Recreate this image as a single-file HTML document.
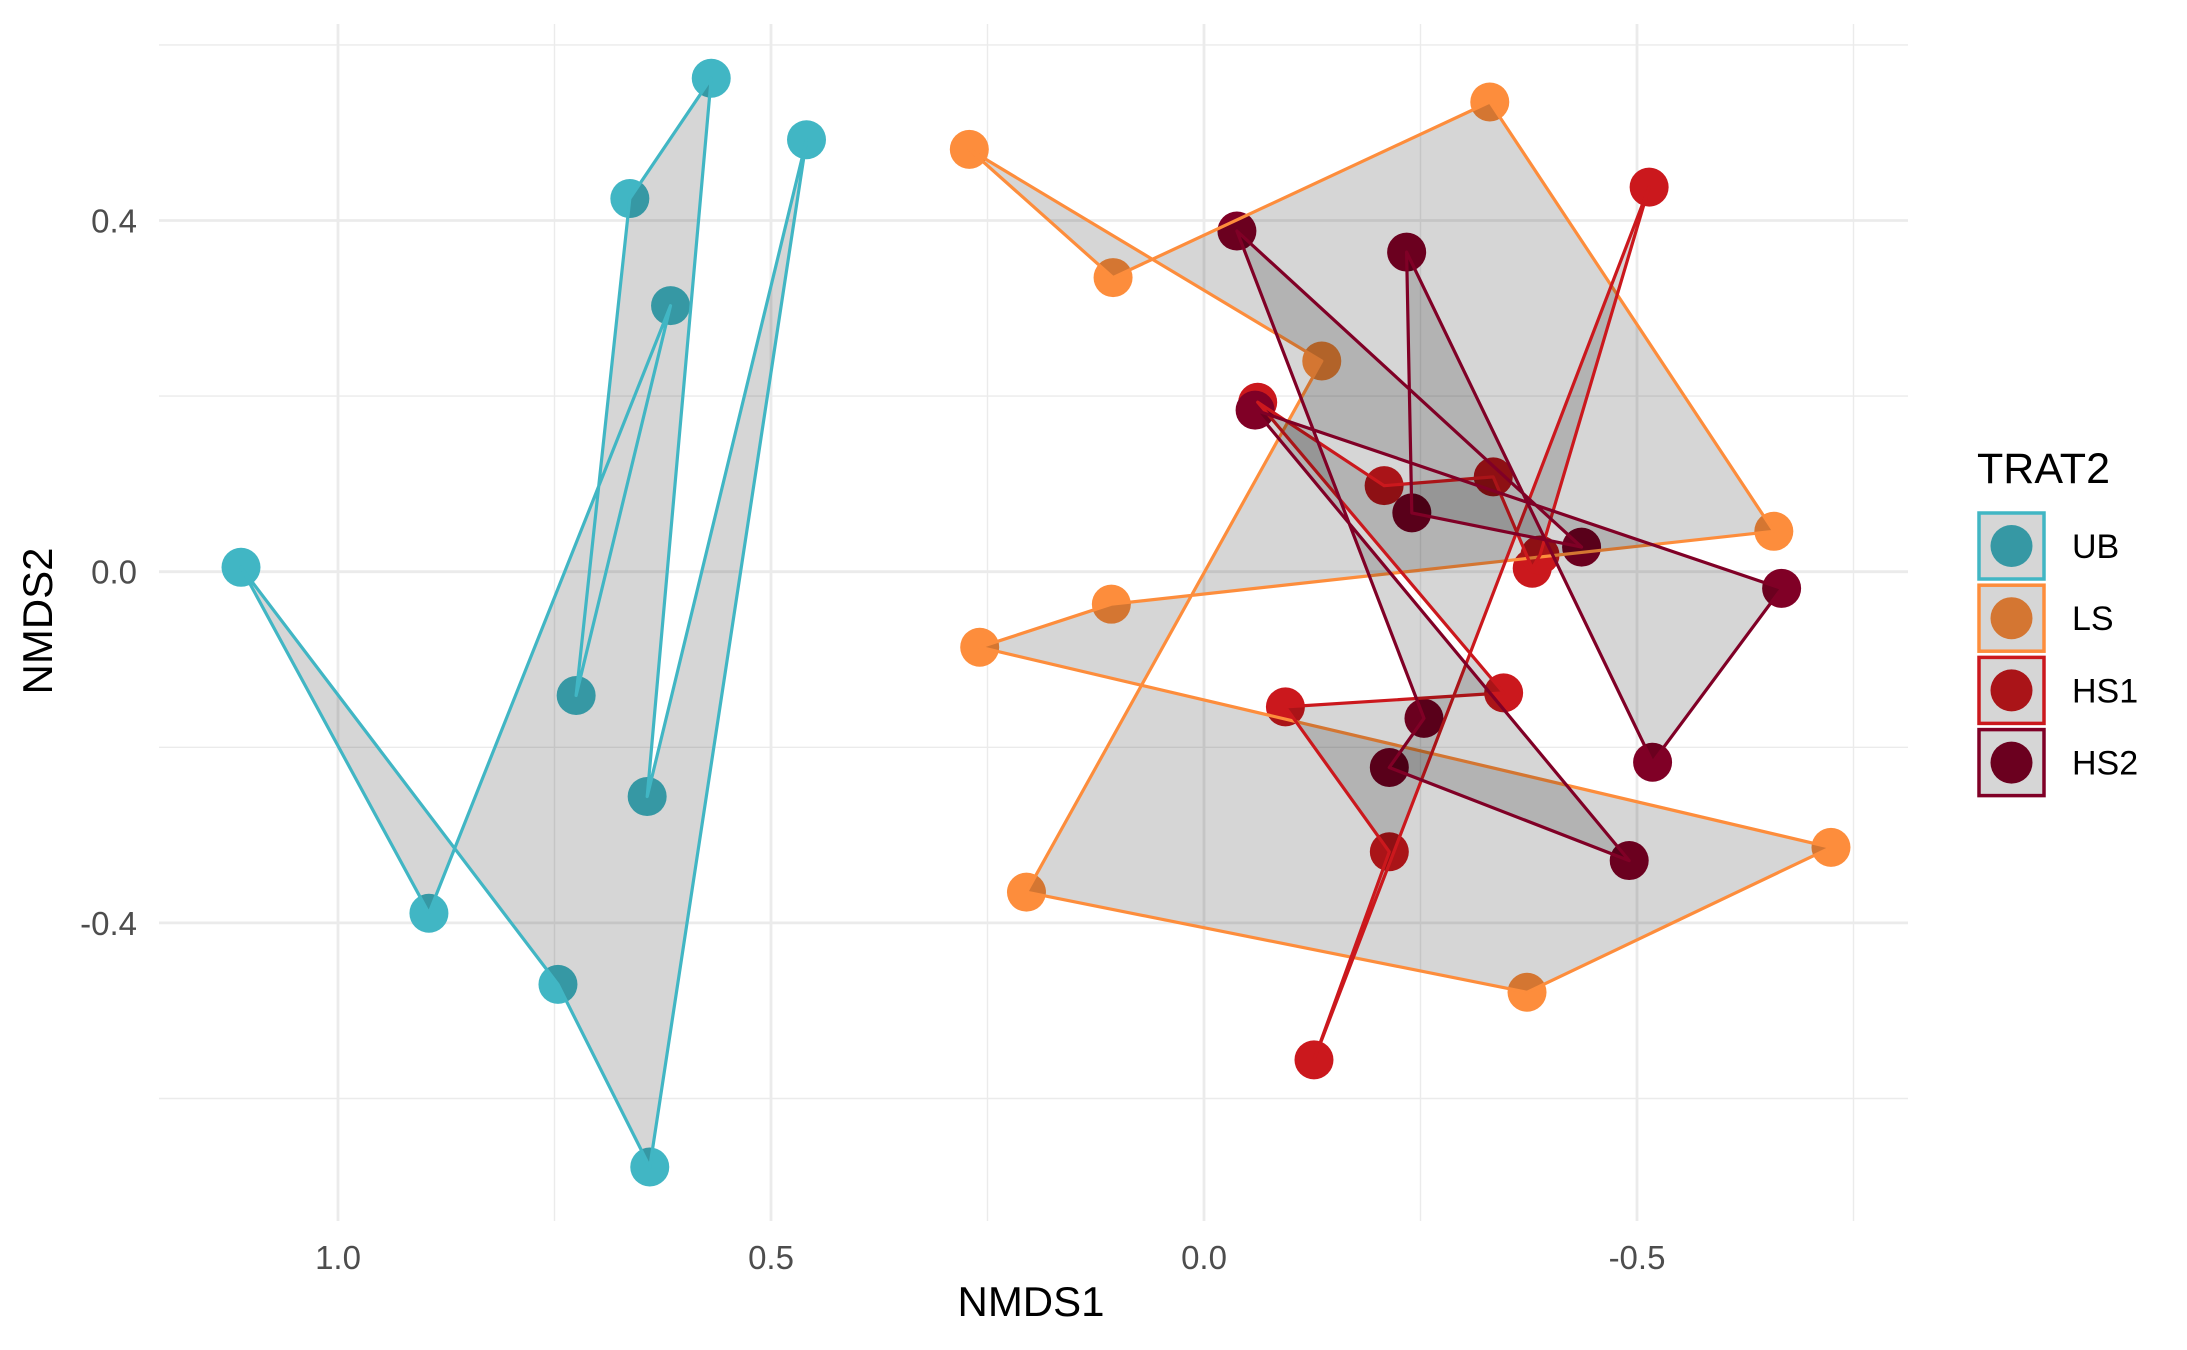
<!DOCTYPE html>
<html><head><meta charset="utf-8"><style>
html,body{margin:0;padding:0;background:#fff;}
svg{display:block;font-family:"Liberation Sans",Arial,sans-serif;}
</style></head><body>
<svg id="chart" width="2187" height="1350" viewBox="0 0 2187 1350" xmlns="http://www.w3.org/2000/svg">
<g id="grid"></g>
<g id="pts"></g>
<g id="polys"></g>
<g id="axes"></g>
<text x="1031" y="1316" font-size="42" text-anchor="middle" fill="#000">NMDS1</text>
<text transform="translate(52,621) rotate(-90)" font-size="42" text-anchor="middle" fill="#000">NMDS2</text>
<g id="legend">
<text x="1977" y="483" font-size="43" fill="#000">TRAT2</text>
</g>
</svg>
<script>
const groups = ["UB","LS","HS1","HS2"];
const colors = ["#41B6C4","#FD8D3C","#CB181D","#800026"];
const ubX = [1.112,0.895,0.616,0.725,0.663,0.569,0.643,0.459,0.640,0.746];
const ubY = [0.005,-0.389,0.303,-0.141,0.425,0.562,-0.256,0.492,-0.678,-0.470];
const lsX = [0.271,0.105,-0.330,-0.658,0.107,0.259,-0.724,-0.373,0.205,-0.136];
const lsY = [0.481,0.335,0.535,0.046,-0.037,-0.086,-0.314,-0.479,-0.365,0.240];
const hs1X = [-0.062,-0.208,-0.334,-0.379,-0.388,-0.514,-0.127,-0.214,-0.094,-0.346];
const hs1Y = [0.193,0.098,0.108,0.004,0.019,0.438,-0.556,-0.319,-0.154,-0.138];
const hs2X = [-0.059,-0.667,-0.518,-0.234,-0.240,-0.436,-0.038,-0.254,-0.214,-0.491];
const hs2Y = [0.184,-0.019,-0.217,0.364,0.067,0.028,0.388,-0.167,-0.223,-0.329];
const xTicks = [1.0,0.5,0.0,-0.5];
const xTickLabels = ["1.0","0.5","0.0","-0.5"];
const xMinor = [0.75,0.25,-0.25,-0.75];
const yTicks = [0.4,0.0,-0.4];
const yTickLabels = ["0.4","0.0","-0.4"];
const yMinor = [0.6,0.2,-0.2,-0.6];

const NS="http://www.w3.org/2000/svg";
const L=159,R=1908,T=24,B=1221;
function sx(v){return 1204-866*v;}
function sy(v){return 571.7-878*v;}
function mk(tag,attrs,parent){const e=document.createElementNS(NS,tag);for(const k in attrs)e.setAttribute(k,attrs[k]);parent.appendChild(e);return e;}
const grid=document.getElementById('grid'),pts=document.getElementById('pts'),polys=document.getElementById('polys'),axes=document.getElementById('axes'),legend=document.getElementById('legend');
xMinor.forEach(v=>{const l=mk('line',{x1:sx(v),x2:sx(v),y1:T,y2:B,stroke:'#EBEBEB','stroke-width':1.4},grid);

});
yMinor.forEach(v=>{const l=mk('line',{x1:L,x2:R,y1:sy(v),y2:sy(v),stroke:'#EBEBEB','stroke-width':1.4},grid);

});
xTicks.forEach((v,i)=>{const l=mk('line',{x1:sx(v),x2:sx(v),y1:T,y2:B,stroke:'#EBEBEB','stroke-width':2.8},grid);


const t=mk('text',{x:sx(v),y:1269,'font-size':33,'text-anchor':'middle',fill:'#4D4D4D'},axes);t.textContent=xTickLabels[i];

});
yTicks.forEach((v,i)=>{const l=mk('line',{x1:L,x2:R,y1:sy(v),y2:sy(v),stroke:'#EBEBEB','stroke-width':2.8},grid);


const t=mk('text',{x:137,y:sy(v)+12,'font-size':33,'text-anchor':'end',fill:'#4D4D4D'},axes);t.textContent=yTickLabels[i];

});
const allX=[ubX,lsX,hs1X,hs2X],allY=[ubY,lsY,hs1Y,hs2Y];
groups.forEach((g,gi)=>{allX[gi].forEach((x,i)=>{const c=mk('circle',{cx:sx(x),cy:sy(allY[gi][i]),r:19.5,fill:colors[gi]},pts);

});});
groups.forEach((g,gi)=>{const p=allX[gi].map((x,i)=>sx(x).toFixed(1)+','+sy(allY[gi][i]).toFixed(1)).join(' ');
const pg=mk('polygon',{points:p,fill:'#000','fill-opacity':0.16,stroke:colors[gi],'stroke-width':3.2,'stroke-linejoin':'round'},polys);

});
groups.forEach((g,gi)=>{const y0=511+gi*72.2;
const r=mk('rect',{x:1979,y:y0+2,width:65,height:66,fill:'#D6D6D6',stroke:colors[gi],'stroke-width':3.5},legend);


const c=mk('circle',{cx:2011.5,cy:y0+35,r:21,fill:colors[gi]},legend);


const c2=mk('circle',{cx:2011.5,cy:y0+35,r:21,fill:'#000','fill-opacity':0.16},legend);


const t=mk('text',{x:2072,y:y0+47,'font-size':34,fill:'#000'},legend);t.textContent=g;

});
</script>
</body></html>
